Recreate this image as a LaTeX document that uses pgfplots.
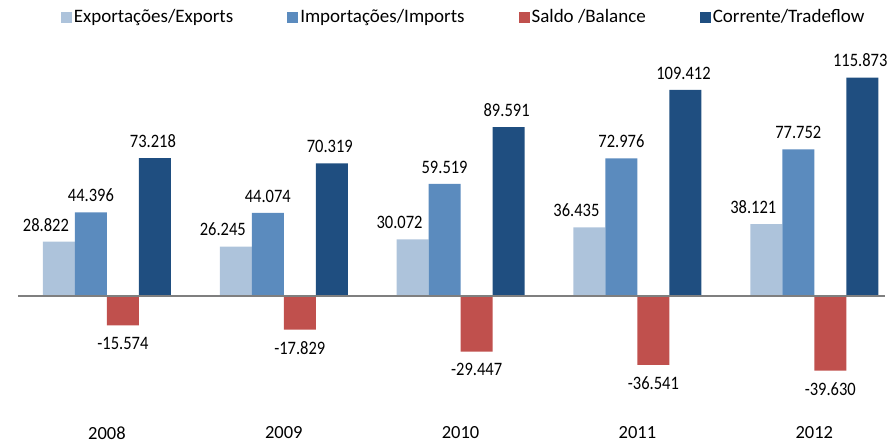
\documentclass[border=0pt]{standalone}
\usepackage{fontspec}
\setmainfont{Carlito}
\usepackage{pgfplots}
\usepackage{pgfplotstable}
\pgfplotsset{compat=1.18}
\definecolor{cexp}{HTML}{ADC3DB}
\definecolor{cimp}{HTML}{5B8BBE}
\definecolor{csal}{HTML}{C0504D}
\definecolor{ccor}{HTML}{1F4E80}
\definecolor{czero}{HTML}{7F7F7F}
\pgfplotstableread{
x exp imp sal cor
0 28.822 44.396 -15.574 73.218
1 26.245 44.074 -17.829 70.319
2 30.072 59.519 -29.447 89.591
3 36.435 72.976 -36.541 109.412
4 38.121 77.752 -39.630 115.873
}\data
\begin{document}
\begin{tikzpicture}
\begin{axis}[
  name=a,
  scale only axis,
  width=867pt, height=369.4pt,
  xmin=-0.503, xmax=4.4,
  ymin=-66, ymax=130,
  ybar=0pt, bar width=0.181,
  axis line style={draw=none},
  ytick=\empty,
  xtick={0,1,2,3,4},
  xticklabels={2008,2009,2010,2011,2012},
  major tick length=0pt,
  tick style={draw=none},
  xticklabel style={font=\fontsize{18.5}{20}\selectfont, yshift=-3pt},
  nodes near coords={\scalebox{1}[1.15]{\pgfmathprintnumber{\pgfplotspointmeta}}},
  every node near coord/.append style={font=\fontsize{16.5}{18}\selectfont, text=black, anchor=south, yshift=7pt},
  /pgf/number format/fixed,
  /pgf/number format/precision=3,
  /pgf/number format/fixed zerofill,
  /pgf/number format/assume math mode=true,
  legend columns=4,
  legend style={at={(rel axis cs:0.514,1.092)}, anchor=center, draw=none, fill=none,
    font=\fontsize{19}{21}\selectfont,
    /tikz/every even column/.append style={column sep=52pt},
    nodes={inner sep=2pt}},
  legend cell align=left,
  legend image code/.code={\fill[#1, draw=none] (0pt,-5.5pt) rectangle (11pt,5.5pt);},
]
\addplot[fill=cexp, draw=none, every node near coord/.append style={xshift=-13pt}] table[x=x,y=exp]{\data};
\addplot[fill=cimp, draw=none] table[x=x,y=imp]{\data};
\addplot[fill=csal, draw=none, every node near coord/.append style={anchor=north, yshift=-15pt}] table[x=x,y=sal]{\data};
\addplot[fill=ccor, draw=none, every node near coord/.append style={xshift=-2pt}] table[x=x,y=cor]{\data};
\draw[czero, line width=2.5pt] (axis cs:-0.503,0) -- (axis cs:4.4,0);
\legend{Exportações/Exports, Importações/Imports, Saldo /Balance, Corrente/Tradeflow}
\end{axis}
\pgfresetboundingbox
\path[use as bounding box] ([xshift=-18pt,yshift=-24.6pt]a.south west) rectangle ([xshift=3pt,yshift=51pt]a.north east);
\end{tikzpicture}
\end{document}
